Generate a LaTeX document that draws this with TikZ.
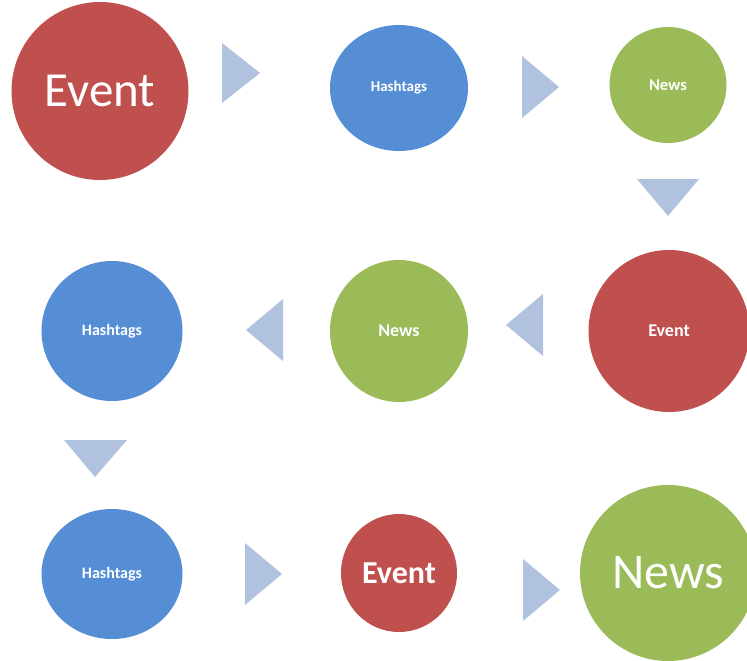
\documentclass[tikz,border=0pt]{standalone}
\usepackage{fontspec}
\setmainfont{Carlito}
\usetikzlibrary{shapes.geometric}
\definecolor{evred}{HTML}{C0504D}
\definecolor{hashblue}{HTML}{558ED5}
\definecolor{newsgreen}{HTML}{9BBB59}
\definecolor{arrowblue}{HTML}{B0C2DE}
\begin{document}
\begin{tikzpicture}[x=1pt,y=-1pt,
  bubble/.style={ellipse, inner sep=0pt, text=white, align=center},
  ev/.style={bubble, fill=evred},
  ht/.style={bubble, fill=hashblue},
  nw/.style={bubble, fill=newsgreen},
  tri/.style={fill=arrowblue}]
\useasboundingbox (0,0) rectangle (747,661);
\clip (0,0) rectangle (747,661);
% row 1
\node[ev, minimum width=177pt, minimum height=178pt, font=\fontsize{49}{52}\selectfont] (e1) at (100,91) {Event};
\node[ht, minimum width=138pt, minimum height=126pt, font=\fontsize{15}{18}\selectfont\bfseries] (h1) at (399,88) {Hashtags};
\node[nw, minimum width=117pt, minimum height=116pt, font=\fontsize{16.5}{18}\selectfont\bfseries] (n1) at (668,85) {News};
% row 2
\node[ev, minimum width=161pt, minimum height=162pt, font=\fontsize{18}{20}\selectfont\bfseries] (e2) at (669,331) {Event};
\node[nw, minimum width=138pt, minimum height=142pt, font=\fontsize{18}{20}\selectfont\bfseries] (n2) at (399,331) {News};
\node[ht, minimum width=141pt, minimum height=140pt, font=\fontsize{16}{18}\selectfont\bfseries] (h2) at (112,331) {Hashtags};
% row 3
\node[ht, minimum width=141pt, minimum height=130pt, font=\fontsize{16}{18}\selectfont\bfseries] (h3) at (112,574) {Hashtags};
\node[ev, minimum width=116pt, minimum height=118pt, font=\fontsize{32}{34}\selectfont\bfseries] (e3) at (399,573) {Event};
\node[nw, minimum width=176pt, minimum height=176pt, font=\fontsize{50}{53}\selectfont] (n3) at (668,573) {News};
% triangles
\coordinate (t1) at (222,43);
\fill[tri] (t1) -- (222,103) -- (260,73) -- cycle;
\coordinate (t2) at (522,56);
\fill[tri] (t2) -- (522,118) -- (559,87) -- cycle;
\coordinate (t3) at (637,179);
\fill[tri] (t3) -- (699,179) -- (668,216) -- cycle;
\coordinate (t4) at (543,294);
\fill[tri] (t4) -- (543,356) -- (506,325) -- cycle;
\coordinate (t5) at (283,299);
\fill[tri] (t5) -- (283,361) -- (246,330) -- cycle;
\coordinate (t6) at (64,440);
\fill[tri] (t6) -- (127,440) -- (95,477) -- cycle;
\coordinate (t7) at (245,543);
\fill[tri] (t7) -- (245,605) -- (282,574) -- cycle;
\coordinate (t8) at (523,559);
\fill[tri] (t8) -- (523,621) -- (560,590) -- cycle;
\end{tikzpicture}
\end{document}
